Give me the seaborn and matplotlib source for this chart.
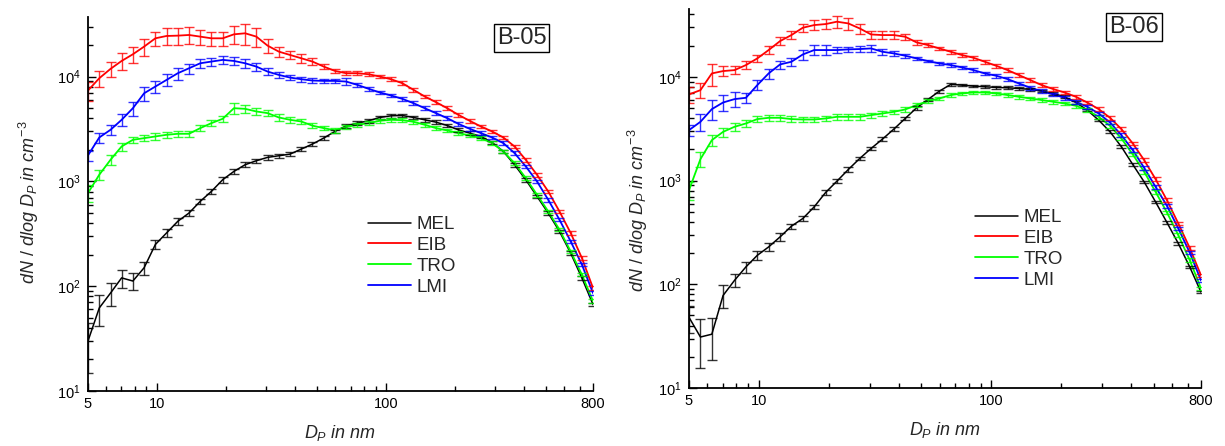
import numpy as np
import pandas as pd
import matplotlib
matplotlib.use("Agg")
import matplotlib.pyplot as plt
import seaborn as sns
from matplotlib.ticker import LogLocator, FixedLocator, FixedFormatter, NullFormatter
from matplotlib.lines import Line2D

# ---------------- data ----------------
STATIONS = ["MEL", "EIB", "TRO", "LMI"]
COLORS = {"MEL": "#000000", "EIB": "#ff0000", "TRO": "#00ff00", "LMI": "#0000ff"}

D_NM = [5.00, 5.60, 6.27, 7.01, 7.85, 8.79, 9.84, 11.01, 12.33, 13.80,
        15.45, 17.29, 19.36, 21.67, 24.26, 27.15, 30.39, 34.02, 38.08, 42.63,
        47.72, 53.42, 59.80, 66.94, 74.93, 83.88, 93.89, 105.1, 117.7, 131.7,
        147.4, 165.0, 184.8, 206.8, 231.5, 259.2, 290.1, 324.8, 363.5, 406.9,
        455.5, 509.9, 570.8, 639.0, 715.3, 800.0]

# B-05
MEL_05 = [30, 62, 86, 120, 112, 150, 250, 322, 416, 499,
          645, 803, 1037, 1245, 1442, 1574, 1694, 1755, 1820, 2032,
          2270, 2590, 2995, 3388, 3594, 3784, 4073, 4220, 4252, 4073,
          3866, 3674, 3413, 3105, 2887, 2683, 2351, 1932, 1442, 1037,
          720, 499, 334, 207, 120, 67]
EIB_05 = [7360, 9640, 11840, 14090, 16320, 19320, 23170, 24390, 24570, 24930,
          24040, 23170, 23170, 25290, 25870, 24040, 19730, 17300, 16070, 14950,
          13900, 12450, 11320, 10760, 10760, 10520, 10000, 9430, 8640, 7470,
          6460, 5700, 4990, 4315, 3784, 3342, 2995, 2624, 2153, 1607,
          1157, 803, 518, 322, 186, 96]
TRO_05 = [774, 1157, 1607, 2153, 2492, 2585, 2683, 2782, 2844, 2844,
          3221, 3595, 3955, 4990, 4920, 4645, 4478, 4073, 3866, 3727,
          3400, 3220, 3070, 3300, 3467, 3591, 3784, 3866, 3837, 3700,
          3467, 3221, 3062, 2887, 2742, 2588, 2318, 1932, 1496, 1077,
          747, 518, 347, 215, 129, 72]
LMI_05 = [1770, 2624, 3105, 3866, 4990, 6930, 8030, 9290, 10760, 12000,
          13390, 13900, 14420, 14090, 13390, 12450, 11160, 10370, 9780, 9430,
          9160, 9090, 9090, 8960, 8330, 7640, 7050, 6600, 6130, 5570,
          4990, 4478, 4010, 3540, 3176, 2887, 2624, 2318, 1862, 1390,
          1000, 669, 432, 268, 161, 86]

# error bars (percent of value)
MEL_05_ERR = [50, 33, 25, 20, 18, 14, 10, 9, 8, 7, 6, 6, 6, 6, 5, 5, 5, 5, 5, 5, 5, 4, 4,
              4, 4, 4, 4, 4, 4, 4, 4, 4, 4, 4, 4, 4, 4, 4, 4, 4, 4, 4, 4, 4, 4, 4]
EIB_05_ERR = [20, 18, 16, 18, 18, 18, 16, 18, 18, 18, 16, 15, 15, 20, 23, 20, 15, 11, 9, 9, 7, 6, 5,
              4, 4, 4, 4, 4, 4, 4, 4, 4, 4, 4, 4, 4, 4, 4, 4, 4, 4, 4, 4, 4, 4, 4]
TRO_05_ERR = [18, 11, 11, 9, 7, 7, 7, 6, 6, 6, 6, 7, 7, 11, 9, 7, 7, 7, 6, 6, 6, 5, 5,
              4, 4, 4, 4, 4, 4, 4, 4, 4, 4, 4, 4, 4, 4, 4, 4, 4, 4, 4, 4, 4, 4, 4]
LMI_05_ERR = [11, 11, 11, 13, 15, 15, 13, 13, 13, 11, 9, 9, 9, 9, 9, 9, 7, 6, 5, 5, 5, 5, 5,
              8, 4, 4, 4, 4, 4, 4, 4, 4, 4, 4, 4, 4, 4, 4, 4, 4, 4, 4, 4, 4, 4, 4]

# B-06
MEL_06 = [48, 31, 33, 78, 109, 147, 190, 229, 286, 363,
          430, 557, 766, 986, 1277, 1630, 2036, 2506, 3128, 3963,
          5020, 6040, 7270, 8440, 8310, 8130, 8010, 7890, 7830, 7710,
          7550, 7280, 6910, 6410, 5650, 4770, 3820, 2946, 2113, 1425,
          970, 622, 394, 247, 147, 84]
EIB_06 = [6760, 7430, 10770, 11350, 11590, 12960, 15030, 18090, 22080, 25230,
          29700, 31500, 32200, 33960, 32670, 29230, 25580, 25230, 25230, 24320,
          21440, 20200, 18750, 17420, 16180, 15250, 13950, 12760, 11590, 10370,
          9290, 8310, 7610, 7060, 6410, 5650, 4875, 4022, 3128, 2274,
          1570, 1031, 646, 385, 224, 122]
TRO_06 = [807, 1607, 2449, 2946, 3294, 3548, 3908, 4022, 4022, 3908,
          3872, 3872, 3963, 4112, 4112, 4112, 4266, 4428, 4595, 4840,
          5330, 5826, 6183, 6660, 6910, 7060, 7060, 6910, 6660, 6410,
          6180, 5960, 5740, 5530, 5250, 4770, 4110, 3365, 2540, 1782,
          1214, 778, 492, 297, 171, 91]
LMI_06 = [3060, 3680, 4875, 5650, 6090, 6270, 8310, 10770, 13150, 13950,
          16410, 18090, 18090, 18090, 18360, 18500, 18760, 17420, 16790, 15950,
          15030, 14160, 13450, 12960, 12300, 11590, 10770, 10230, 9490, 8620,
          7830, 7280, 6760, 6270, 5740, 5140, 4430, 3625, 2735, 1963,
          1325, 869, 570, 345, 202, 109]

MEL_06_ERR = [30, 50, 43, 25, 14, 12, 10, 9, 8, 6, 5, 5, 5, 5, 5, 4, 4, 4, 4, 4, 4, 4, 3,
              3, 3, 3, 3, 3, 3, 3, 3, 3, 3, 3, 3, 3, 3, 3, 3, 3, 3, 3, 3, 3, 3, 3]
EIB_06_ERR = [18, 16, 24, 11, 9, 9, 7, 9, 9, 9, 9, 11, 11, 13, 13, 11, 9, 9, 9, 6, 5, 4, 4,
              5, 4, 4, 4, 4, 4, 4, 4, 4, 4, 4, 4, 4, 4, 4, 4, 4, 4, 4, 4, 4, 4, 4]
TRO_06_ERR = [20, 16, 13, 10, 9, 7, 7, 7, 7, 6, 6, 6, 6, 6, 6, 6, 6, 5, 5, 5, 4, 4, 4,
              4, 4, 4, 4, 4, 4, 4, 4, 4, 4, 4, 4, 4, 4, 4, 4, 4, 4, 4, 4, 4, 4, 4]
LMI_06_ERR = [13, 18, 22, 18, 16, 11, 11, 11, 9, 9, 11, 11, 11, 7, 6, 6, 7, 6, 5, 5, 4, 3, 3,
              4, 4, 4, 4, 4, 4, 4, 4, 4, 4, 4, 4, 4, 4, 4, 4, 4, 4, 4, 4, 4, 4, 4]

X_MAJOR = [5, 10, 100, 800]
X_MAJOR_LABELS = ["5", "10", "100", "800"]
X_MINOR = [6, 7, 8, 9, 20, 30, 40, 50, 60, 70, 80, 90, 200, 300, 400, 500, 600, 700]

PANELS = [
    {"tag": "B-05", "ymax": 3.7e4,
     "vals": {"MEL": MEL_05, "EIB": EIB_05, "TRO": TRO_05, "LMI": LMI_05},
     "errs": {"MEL": MEL_05_ERR, "EIB": EIB_05_ERR, "TRO": TRO_05_ERR, "LMI": LMI_05_ERR}},
    {"tag": "B-06", "ymax": 4.5e4,
     "vals": {"MEL": MEL_06, "EIB": EIB_06, "TRO": TRO_06, "LMI": LMI_06},
     "errs": {"MEL": MEL_06_ERR, "EIB": EIB_06_ERR, "TRO": TRO_06_ERR, "LMI": LMI_06_ERR}},
]

# ---------------- style ----------------
sns.set_style("ticks")
plt.rcParams["font.family"] = ["Liberation Sans", "DejaVu Sans"]
plt.rcParams["mathtext.fontset"] = "custom"
plt.rcParams["mathtext.rm"] = "Liberation Sans"
plt.rcParams["mathtext.it"] = "Liberation Sans:italic"
plt.rcParams["mathtext.bf"] = "Liberation Sans:bold"

W, H = 1225, 446
fig = plt.figure(figsize=(W / 100, H / 100), dpi=100)
ax_rects = [
    [88 / W, (H - 391) / H, 505 / W, 374 / H],
    [689 / W, (H - 388) / H, 512 / W, 379 / H],
]
tag_pos = [(0.859, 0.944), (0.869, 0.9525)]
leg_pos = [(368 / W, 1 - 216 / H), (975 / W, 1 - 209 / H)]
ylab_xy = [(-0.094, 0.505), (-0.076, 0.47)]
lw = {"MEL": 1.1, "EIB": 1.3, "TRO": 1.3, "LMI": 1.3}

for k, panel in enumerate(PANELS):
    ax = fig.add_axes(ax_rects[k])
    rows = []
    for st in STATIONS:
        for d, v in zip(D_NM, panel["vals"][st]):
            rows.append({"d": d, "v": v, "station": st})
    df = pd.DataFrame(rows)
    for st in STATIONS:
        sub = df[df["station"] == st]
        sns.lineplot(data=sub, x="d", y="v", color=COLORS[st], estimator=None,
                     sort=False, legend=False, ax=ax, linewidth=lw[st])
    for st in STATIONS:
        v = np.array(panel["vals"][st], dtype=float)
        e = v * np.array(panel["errs"][st], dtype=float) / 100.0
        ax.errorbar(D_NM, v, yerr=e, fmt="none", ecolor=COLORS[st], elinewidth=1.0,
                    capsize=3.5, capthick=1.0, alpha=0.8)

    ax.set_xscale("log")
    ax.set_yscale("log")
    ax.set_xlim(5, 800)
    ax.set_ylim(10, panel["ymax"])
    ax.xaxis.set_major_locator(FixedLocator(X_MAJOR))
    ax.xaxis.set_major_formatter(FixedFormatter(X_MAJOR_LABELS))
    ax.xaxis.set_minor_locator(FixedLocator(X_MINOR))
    ax.xaxis.set_minor_formatter(NullFormatter())
    ax.yaxis.set_major_locator(LogLocator(base=10, numticks=12))
    ax.yaxis.set_minor_locator(LogLocator(base=10, subs=np.arange(2, 10), numticks=40))
    ax.yaxis.set_minor_formatter(NullFormatter())

    ax.tick_params(which="both", direction="in", top=False, right=False,
                   labelsize=10.5, width=1.0, colors="black")
    ax.tick_params(which="major", length=6)
    ax.tick_params(which="minor", length=3.5)
    ax.tick_params(axis="y", pad=5)
    ax.tick_params(axis="x", pad=4)
    sns.despine(ax=ax)
    for s in ["left", "bottom"]:
        ax.spines[s].set_linewidth(1.3)
        ax.spines[s].set_color("black")

    ax.set_xlabel(r"$D_P\ in\ nm$", fontsize=13)
    ax.set_ylabel(r"$dN\ /\ dlog\ D_P\ in\ cm^{-3}$", fontsize=13)
    ax.xaxis.set_label_coords(0.5, -0.085)
    ax.yaxis.set_label_coords(*ylab_xy[k])

    ax.text(tag_pos[k][0], tag_pos[k][1], panel["tag"], transform=ax.transAxes,
            ha="center", va="center", fontsize=17,
            bbox=dict(boxstyle="square,pad=0.12", facecolor="white",
                      edgecolor="black", linewidth=1.0))

    handles = [Line2D([0], [0], color=COLORS[st], lw=lw[st]) for st in STATIONS]
    ax.legend(handles, STATIONS, loc="upper left", bbox_to_anchor=leg_pos[k],
              bbox_transform=fig.transFigure, frameon=False, fontsize=13.5,
              handlelength=2.3, handletextpad=0.3, labelspacing=0.2,
              borderpad=0, borderaxespad=0)

fig.savefig("out.png", dpi=100)
